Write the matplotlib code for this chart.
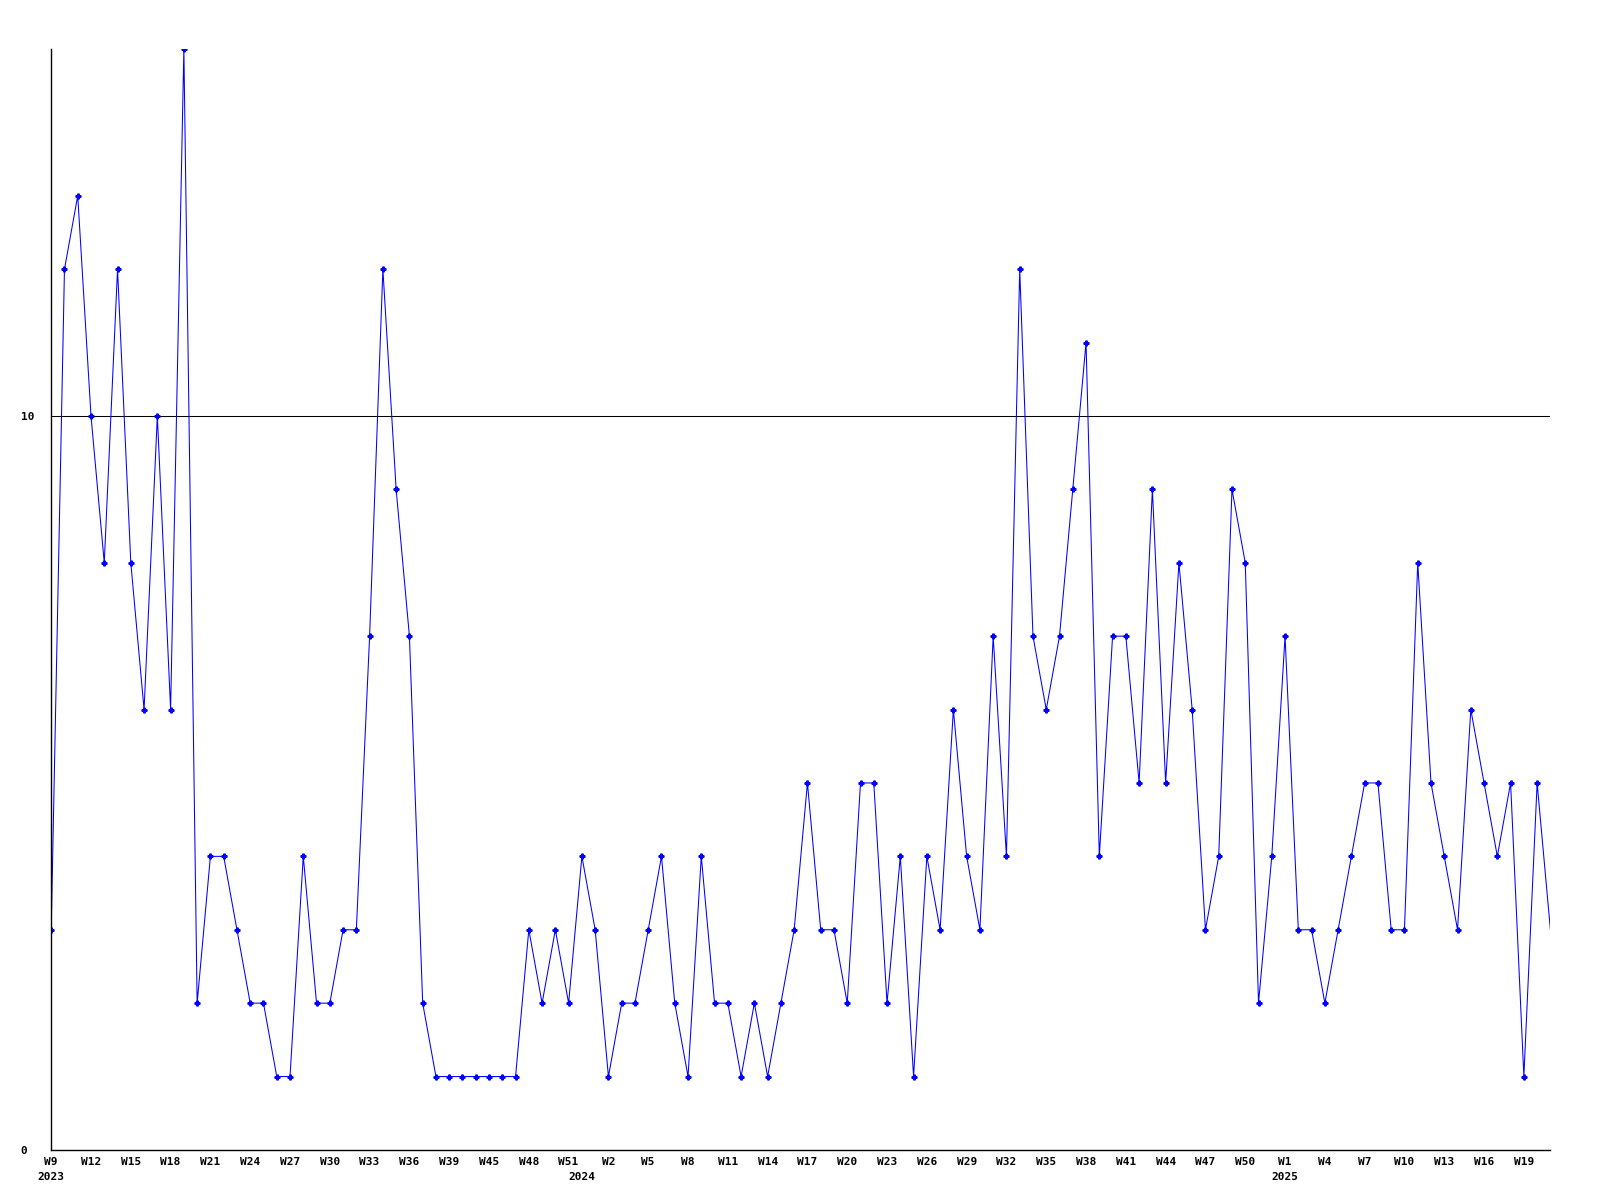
import matplotlib
matplotlib.use("Agg")
import matplotlib.pyplot as plt

# weekly counts, one value per week (W9 2023 .. W21 2025)
values = [3, 12, 13, 10, 8, 12, 8, 6, 10, 6,
          15, 2, 4, 4, 3, 2, 2, 1, 1, 4,
          2, 2, 3, 3, 7, 12, 9, 7, 2, 1,
          1, 1, 1, 1, 1, 1, 3, 2, 3, 2,
          4, 3, 1, 2, 2, 3, 4, 2, 1, 4,
          2, 2, 1, 2, 1, 2, 3, 5, 3, 3,
          2, 5, 5, 2, 4, 1, 4, 3, 6, 4,
          3, 7, 4, 12, 7, 6, 7, 9, 11, 4,
          7, 7, 5, 9, 5, 8, 6, 3, 4, 9,
          8, 2, 4, 7, 3, 3, 2, 3, 4, 5,
          5, 3, 3, 8, 5, 4, 3, 6, 5, 4,
          5, 1, 5, 3]

week_labels = ["W9", "W12", "W15", "W18", "W21", "W24", "W27", "W30", "W33",
               "W36", "W39", "W45", "W48", "W51", "W2", "W5", "W8", "W11",
               "W14", "W17", "W20", "W23", "W26", "W29", "W32", "W35", "W38",
               "W41", "W44", "W47", "W50", "W1", "W4", "W7", "W10", "W13",
               "W16", "W19"]
year_labels = ["2023", "2024", "2025"]
year_pos = [0, 40, 93]

x = list(range(len(values)))

fig = plt.figure(figsize=(16, 12), dpi=100)
ax = fig.add_axes([0.032, 0.0417, 0.937, 0.9175])

ax.plot(x, values, color="#0000ff", linewidth=0.75, marker="P", markersize=3.5,
        markevery=list(range(len(values) - 1)))
ax.axhline(10, color="black", linewidth=0.75, zorder=0)

ax.set_xlim(0, len(values) - 1)
ax.set_ylim(0, 15)

for s in ["top", "right"]:
    ax.spines[s].set_visible(False)
for s in ["left", "bottom"]:
    ax.spines[s].set_color("black")
    ax.spines[s].set_linewidth(1.0)

font = dict(family="DejaVu Sans Mono", weight="bold", size=8)

ax.set_xticks(range(0, 3 * len(week_labels), 3))
ax.set_xticklabels(week_labels, **font)
ax.tick_params(axis="x", length=0, pad=5)

# year markers under the week labels
for pos, yr in zip(year_pos, year_labels):
    ax.annotate(yr, xy=(pos, 0), xycoords=("data", "axes fraction"),
                xytext=(0, -16), textcoords="offset points",
                ha="center", va="top", **font)

ax.set_yticks([0, 10])
ax.set_yticklabels(["0", "10"], **font)
ax.tick_params(axis="y", length=0, pad=22)
for lbl in ax.get_yticklabels():
    lbl.set_horizontalalignment("left")

fig.savefig("out.png", dpi=100)
